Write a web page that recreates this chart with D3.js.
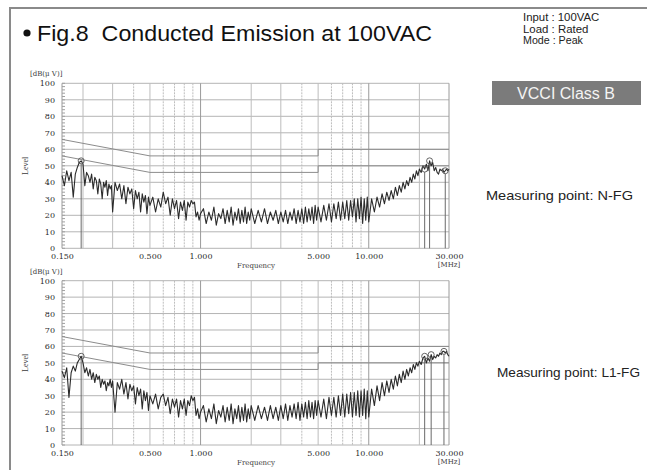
<!DOCTYPE html>
<html>
<head>
<meta charset="utf-8">
<script src="https://cdn.jsdelivr.net/npm/d3@7"></script>
<style>
  body { margin: 0; background: #fff; }
  svg { display: block; }
</style>
</head>
<body>
<div id="viz"></div>
<script>
/* Conducted emission plots, N-FG and L1-FG, redrawn with d3 */

// sweep frequencies [MHz], shared by both measurements
var freqMHz = [
  0.150, 0.155, 0.160, 0.165, 0.170, 0.175, 0.180, 0.185, 0.190, 0.195, 0.200,
  0.205, 0.210, 0.215, 0.220, 0.225, 0.230, 0.235, 0.240, 0.245, 0.250,
  0.255, 0.260, 0.265, 0.270, 0.275, 0.280, 0.285, 0.290, 0.295, 0.300,
  0.31, 0.32, 0.33, 0.34, 0.35, 0.36, 0.37, 0.38, 0.39, 0.40,
  0.41, 0.42, 0.43, 0.44, 0.45, 0.46, 0.47, 0.48, 0.49, 0.50,
  0.52, 0.54, 0.56, 0.58, 0.60, 0.62, 0.64, 0.66, 0.68, 0.70, 0.72, 0.74, 0.76,
  0.78, 0.80, 0.82, 0.84, 0.86, 0.88, 0.90, 0.92, 0.94, 0.96, 0.98, 1.00,
  1.04, 1.08, 1.12, 1.16, 1.20, 1.24, 1.28, 1.32, 1.36, 1.40, 1.44, 1.48, 1.52,
  1.56, 1.60, 1.64, 1.68, 1.72, 1.76, 1.80, 1.84, 1.88, 1.92, 1.96, 2.00,
  2.1, 2.2, 2.3, 2.4, 2.5, 2.6, 2.7, 2.8, 2.9, 3.0, 3.1, 3.2, 3.3, 3.4, 3.5,
  3.6, 3.7, 3.8, 3.9, 4.0, 4.1, 4.2, 4.3, 4.4, 4.5, 4.6, 4.7, 4.8, 4.9, 5.0,
  5.2, 5.4, 5.6, 5.8, 6.0, 6.2, 6.4, 6.6, 6.8, 7.0, 7.2, 7.4, 7.6,
  7.8, 8.0, 8.2, 8.4, 8.6, 8.8, 9.0, 9.2, 9.4, 9.6, 9.8, 10.0,
  10.4, 10.8, 11.2, 11.6, 12.0, 12.4, 12.8, 13.2, 13.6, 14.0, 14.4, 14.8, 15.2,
  15.6, 16.0, 16.4, 16.8, 17.2, 17.6, 18.0, 18.4, 18.8, 19.2, 19.6, 20.0,
  20.5, 21.0, 21.5, 22.0, 22.5, 23.0, 23.5, 24.0, 24.5, 25.0,
  25.5, 26.0, 26.5, 27.0, 27.5, 28.0, 28.5, 29.0, 29.5, 30.0
];

// level [dB(uV)] measured at N-FG
var levelNFG = [
  44, 38, 47, 41, 46, 31, 45, 49, 52, 53, 51,
  38, 46, 44, 40, 45, 36, 43, 41, 33, 42, 39, 30, 40, 37, 41, 32, 39, 36, 38, 22,
  40, 35, 39, 30, 38, 27, 37, 33, 36, 24, 35, 30, 34, 22, 33, 28, 32, 21, 31, 26,
  31, 22, 30, 25, 34, 27, 31, 20, 30, 24, 29, 18, 28, 23, 29, 17, 28, 25, 29, 27, 28, 19, 22, 17, 21,
  24, 15, 22, 17, 25, 14, 21, 18, 24, 15, 23, 16, 25, 14, 22, 17, 24, 15, 23, 16, 25, 15, 22, 17, 24,
  15, 23, 16, 24, 15, 22, 17, 23, 15, 22, 16, 23, 15, 22, 17, 24, 15, 23, 16, 24, 15, 25, 16, 24, 17, 25, 15, 26, 17, 25,
  16, 26, 17, 27, 16, 27, 18, 28, 17, 28, 18, 29, 17, 29, 19, 30, 16, 30, 18, 31, 15, 30, 17, 31, 16,
  30, 22, 31, 25, 33, 27, 34, 29, 35, 30, 37, 32, 38, 34, 40, 36, 41, 38, 43, 40, 45, 42, 47, 44, 48,
  46, 50, 48, 51, 47, 53, 50, 52, 47, 49, 46, 45, 48, 47, 48, 46, 47, 48, 47, 48
];

// level [dB(uV)] measured at L1-FG
var levelL1FG = [
  45, 41, 47, 29, 44, 48, 45, 50, 52, 54, 50,
  44, 47, 42, 46, 40, 44, 38, 43, 40, 42, 35, 40, 37, 39, 33, 38, 36, 40, 35, 39,
  20, 38, 34, 40, 31, 38, 28, 37, 33, 36, 25, 35, 30, 34, 22, 33, 27, 32, 21, 30,
  25, 31, 22, 29, 31, 24, 29, 19, 28, 23, 28, 17, 27, 22, 28, 18, 27, 24, 30, 27, 29, 18, 22, 16, 20,
  24, 14, 22, 16, 25, 13, 21, 17, 24, 14, 23, 15, 25, 13, 22, 16, 24, 14, 23, 15, 25, 14, 22, 16, 24,
  15, 24, 16, 23, 15, 24, 16, 23, 15, 24, 16, 25, 15, 24, 17, 25, 16, 26, 15, 25, 17, 26, 16, 27, 17, 26, 16, 27, 18, 27,
  17, 28, 16, 29, 18, 29, 17, 30, 18, 31, 17, 31, 19, 32, 17, 32, 18, 33, 17, 33, 18, 34, 16, 33, 17,
  34, 24, 36, 27, 38, 30, 39, 32, 40, 34, 42, 36, 43, 38, 45, 40, 46, 42, 47, 44, 49, 46, 50, 48, 51,
  49, 53, 54, 50, 53, 51, 55, 52, 54, 53, 55, 54, 56, 55, 57, 57, 56, 57, 55, 54
];

// peak markers [MHz]
var markerNFG = [0.195, 21.5, 23.0, 28.5];
var markerL1FG = [0.195, 21.5, 23.5, 28.0];

// VCCI class B limits: quasi-peak and average
var limitFreq = [0.15, 0.5, 5, 5, 30];
var limitQP = [66, 56, 56, 60, 60];
var limitAV = [56, 46, 46, 50, 50];

var levelTicks = [0, 10, 20, 30, 40, 50, 60, 70, 80, 90, 100];
var freqTicks = [0.15, 0.5, 1, 5, 10, 30];
var gridFreqs = [0.2, 0.3, 0.4, 0.5, 0.6, 0.7, 0.8, 0.9, 1, 2, 3, 4, 5, 6, 7, 8, 9, 10, 20, 30];

var infoLines = ['Input : 100VAC', 'Load : Rated', 'Mode : Peak'];

var width = 647,
    height = 470,
    left = 62,
    right = 449;

var svg = d3.select('#viz').append('svg')
    .attr('width', width)
    .attr('height', height);

// outer frame
svg.append('path')
    .attr('d', 'M10,' + height + 'V8H' + width)
    .attr('fill', 'none')
    .attr('stroke', '#8a8a8a')
    .attr('stroke-width', 2);

svg.append('circle')
    .attr('cx', 27).attr('cy', 33).attr('r', 3.6)
    .attr('fill', '#111');

svg.append('text')
    .attr('x', 37).attr('y', 41)
    .attr('font-family', 'Liberation Sans, Arial, sans-serif')
    .attr('font-size', 22)
    .attr('textLength', 395)
    .attr('lengthAdjust', 'spacingAndGlyphs')
    .attr('fill', '#111')
    .text('Fig.8\u00a0\u00a0Conducted Emission at 100VAC');

svg.append('g').selectAll('text')
    .data(infoLines)
    .enter().append('text')
    .attr('x', 523)
    .attr('y', function(d, i) { return 21 + i * 11.5; })
    .attr('font-family', 'Liberation Sans, Arial, sans-serif')
    .attr('font-size', 10)
    .attr('textLength', function(d) { return d.length * 5.45; })
    .attr('lengthAdjust', 'spacingAndGlyphs')
    .attr('fill', '#222')
    .text(function(d) { return d; });

svg.append('rect')
    .attr('x', 492).attr('y', 81)
    .attr('width', 149).attr('height', 24)
    .attr('fill', '#7b7b7b');

svg.append('text')
    .attr('x', 566).attr('y', 99)
    .attr('text-anchor', 'middle')
    .attr('font-family', 'Liberation Sans, Arial, sans-serif')
    .attr('font-size', 16)
    .attr('fill', '#f4f4f4')
    .text('VCCI Class B');

var panels = [
  { top: 83.3, bottom: 248.3, levels: levelNFG, markers: markerNFG,
    label: 'Measuring point: N-FG', labelX: 486, labelY: 200, labelW: 147 },
  { top: 280.7, bottom: 445, levels: levelL1FG, markers: markerL1FG,
    label: 'Measuring point: L1-FG', labelX: 497, labelY: 377, labelW: 143 }
];

panels.forEach(function(p) {
  var x = d3.scaleLog().domain([0.15, 30]).range([left, right]),
      y = d3.scaleLinear().domain([0, 100]).range([p.bottom, p.top]),
      g = svg.append('g');

  // grid
  g.append('g').selectAll('line')
      .data(levelTicks)
      .enter().append('line')
      .attr('x1', left).attr('x2', right)
      .attr('y1', y).attr('y2', y)
      .attr('stroke', '#b4b4b4')
      .attr('stroke-width', 1);

  g.append('g').selectAll('line')
      .data(gridFreqs)
      .enter().append('line')
      .attr('x1', x).attr('x2', x)
      .attr('y1', p.top).attr('y2', p.bottom)
      .attr('stroke', function(d) { return (d === 1 || d === 10 || d === 30) ? '#9a9a9a' : '#bdbdbd'; })
      .attr('stroke-dasharray', function(d) {
        return [0.4, 0.6, 0.7, 0.8, 0.9, 4, 6, 7, 8, 9].indexOf(d) >= 0 ? '2,1' : null;
      })
      .attr('stroke-width', 1);

  g.append('line')
      .attr('x1', left).attr('x2', left)
      .attr('y1', p.top).attr('y2', p.bottom)
      .attr('stroke', '#9a9a9a');

  // small ticks on the level axis
  g.append('g').selectAll('line')
      .data(d3.range(0, 101, 2))
      .enter().append('line')
      .attr('x1', left).attr('x2', left + 3)
      .attr('y1', y).attr('y2', y)
      .attr('stroke', '#a0a0a0');

  // limit lines
  [limitQP, limitAV].forEach(function(lim) {
    g.append('path')
        .datum(d3.zip(limitFreq, lim))
        .attr('fill', 'none')
        .attr('stroke', '#8c8c8c')
        .attr('stroke-width', 1)
        .attr('d', d3.line()
          .x(function(d) { return x(d[0]); })
          .y(function(d) { return y(d[1]); }));
  });

  // trace
  var trace = d3.zip(freqMHz, p.levels);

  g.append('path')
      .datum(trace)
      .attr('fill', 'none')
      .attr('stroke', '#2b2b2b')
      .attr('stroke-width', 1.1)
      .attr('stroke-linejoin', 'round')
      .attr('d', d3.line()
        .x(function(d) { return x(d[0]); })
        .y(function(d) { return y(d[1]); }));

  // peak markers
  var mk = g.append('g').selectAll('g')
      .data(p.markers.map(function(f) {
        var i = d3.minIndex(freqMHz, function(v) { return Math.abs(v - f); });
        return [f, p.levels[i]];
      }))
      .enter().append('g');

  mk.append('line')
      .attr('x1', function(d) { return x(d[0]); })
      .attr('x2', function(d) { return x(d[0]); })
      .attr('y1', function(d) { return y(d[1]) + 3; })
      .attr('y2', p.bottom)
      .attr('stroke', '#6a6a6a')
      .attr('stroke-width', 1);

  mk.append('circle')
      .attr('cx', function(d) { return x(d[0]); })
      .attr('cy', function(d) { return y(d[1]); })
      .attr('r', 3)
      .attr('fill', 'none')
      .attr('stroke', '#555')
      .attr('stroke-width', 0.9);

  // axes labels
  var yAxis = g.append('g')
      .attr('transform', 'translate(' + left + ',0)')
      .call(d3.axisLeft(y).tickValues(levelTicks).tickSize(0).tickPadding(7));

  var xAxis = g.append('g')
      .attr('transform', 'translate(0,' + p.bottom + ')')
      .call(d3.axisBottom(x).tickValues(freqTicks).tickFormat(d3.format('.3f')).tickSize(0).tickPadding(5.5));

  [yAxis, xAxis].forEach(function(a) {
    a.select('.domain').remove();
    a.selectAll('text')
        .attr('font-family', 'DejaVu Serif, serif')
        .attr('font-size', 8)
        .attr('fill', '#2a2a2a');
  });

  g.append('text')
      .attr('x', 30).attr('y', p.top - 7)
      .attr('font-family', 'DejaVu Serif, serif')
      .attr('font-size', 7)
      .attr('fill', '#3a3a3a')
      .text('[dB(\u03bc V)]');

  g.append('text')
      .attr('transform', 'translate(28,' + ((p.top + p.bottom) / 2) + ') rotate(-90)')
      .attr('text-anchor', 'middle')
      .attr('font-family', 'Liberation Serif, serif')
      .attr('font-size', 8)
      .attr('fill', '#3a3a3a')
      .text('Level');

  g.append('text')
      .attr('x', right).attr('y', p.bottom + 19)
      .attr('text-anchor', 'middle')
      .attr('font-family', 'DejaVu Serif, serif')
      .attr('font-size', 7)
      .attr('fill', '#3a3a3a')
      .text('[MHz]');

  g.append('text')
      .attr('x', 256).attr('y', p.bottom + 20)
      .attr('text-anchor', 'middle')
      .attr('font-family', 'DejaVu Serif, serif')
      .attr('font-size', 7)
      .attr('fill', '#3a3a3a')
      .text('Frequency');

  svg.append('text')
      .attr('x', p.labelX).attr('y', p.labelY)
      .attr('font-family', 'Liberation Sans, Arial, sans-serif')
      .attr('font-size', 13)
      .attr('textLength', p.labelW)
      .attr('lengthAdjust', 'spacingAndGlyphs')
      .attr('fill', '#222')
      .text(p.label);
});
</script>
</body>
</html>
